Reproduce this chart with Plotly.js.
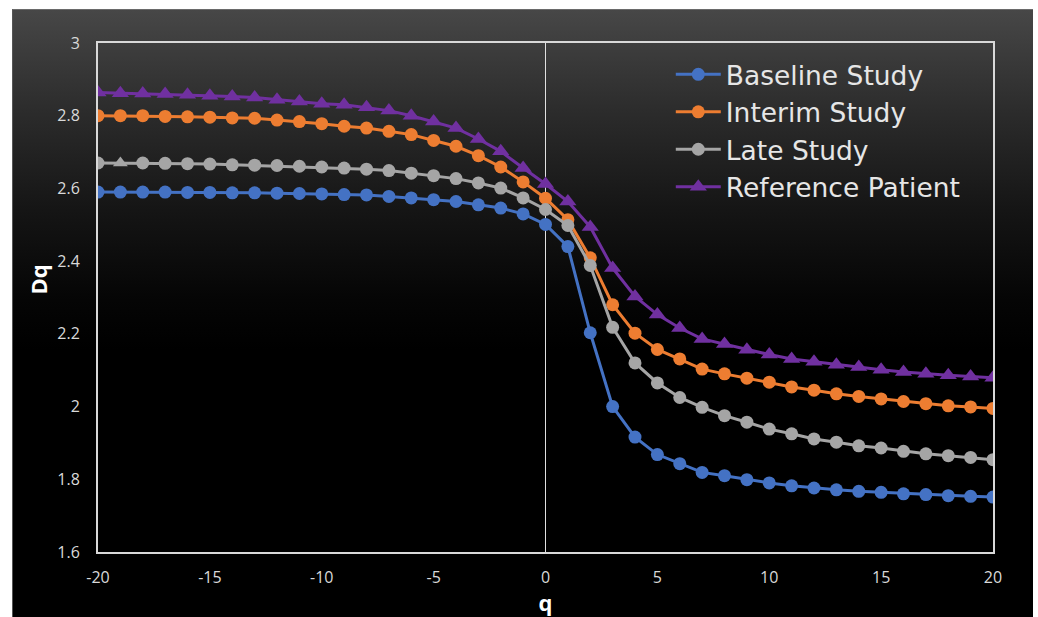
<!DOCTYPE html>
<html>
<head>
<meta charset="utf-8">
<script src="https://cdn.plot.ly/plotly-3.0.1.min.js"></script>
<style>
  html, body { margin: 0; padding: 0; background: #ffffff; width: 1038px; height: 617px; overflow: hidden; }
  #bg { position: absolute; left: 12px; top: 9px; width: 1020px; height: 608px;
        background: linear-gradient(to bottom, #474747 0px, #2c2c2c 100px, #151515 200px, #050505 290px, #000000 340px, #000000 100%);
        border-top: 1px solid #6a6a6a; border-left: 1px solid #555; }
  #chart { position: absolute; left: 0; top: 0; width: 1038px; height: 617px; }
</style>
</head>
<body>
<div id="bg"></div>
<div id="chart"></div>
<script>
const q = [-20,-19,-18,-17,-16,-15,-14,-13,-12,-11,-10,-9,-8,-7,-6,-5,-4,-3,-2,-1,0,1,2,3,4,5,6,7,8,9,10,11,12,13,14,15,16,17,18,19,20];

const baselineStudy = [2.590,2.590,2.590,2.590,2.589,2.589,2.588,2.588,2.587,2.586,2.585,
  2.583,2.582,2.578,2.574,2.569,2.564,2.555,2.546,2.530,2.501,
  2.440,2.203,2.000,1.916,1.868,1.843,1.819,1.810,1.799,1.790,1.782,1.776,1.771,1.767,1.764,1.760,1.758,1.755,1.753,1.751];

const interimStudy = [2.800,2.800,2.800,2.798,2.797,2.796,2.794,2.793,2.788,2.784,2.778,
  2.771,2.766,2.757,2.748,2.732,2.716,2.690,2.659,2.618,2.573,
  2.514,2.409,2.280,2.202,2.157,2.131,2.103,2.090,2.078,2.067,2.054,2.045,2.035,2.028,2.021,2.014,2.008,2.002,1.999,1.995];

const lateStudy = [2.670,2.670,2.670,2.669,2.668,2.667,2.665,2.664,2.663,2.661,2.659,
  2.656,2.653,2.649,2.642,2.635,2.627,2.615,2.601,2.574,2.542,
  2.498,2.388,2.218,2.120,2.065,2.025,1.998,1.975,1.957,1.938,1.925,1.911,1.902,1.892,1.886,1.877,1.870,1.865,1.860,1.854];

const referencePatient = [2.864,2.862,2.861,2.860,2.858,2.855,2.853,2.850,2.844,2.839,2.833,
  2.830,2.823,2.814,2.800,2.784,2.766,2.736,2.702,2.656,2.612,
  2.564,2.494,2.381,2.303,2.253,2.216,2.186,2.172,2.156,2.143,2.131,2.123,2.115,2.109,2.101,2.095,2.090,2.086,2.083,2.079];

const seriesNames = ['Baseline Study', 'Interim Study', 'Late Study', 'Reference Patient'];
const xTicks = [-20,-15,-10,-5,0,5,10,15,20];
const yTicks = [1.6,1.8,2,2.2,2.4,2.6,2.8,3];

const lateSymbols = q.map(v => v === -19 ? 'triangle-up' : 'circle');

function tr(name, y, color, symbol, size) {
  return {
    x: q, y: y, name: name, type: 'scatter', mode: 'lines+markers',
    line: {color: color, width: 3},
    marker: {color: color, symbol: symbol, size: size, line: {width: 0}}
  };
}

const data = [
  tr(seriesNames[0], baselineStudy, '#4472C4', 'circle', 13),
  tr(seriesNames[1], interimStudy, '#ED7D31', 'circle', 13),
  tr(seriesNames[2], lateStudy, '#A5A5A5', lateSymbols, 13),
  tr(seriesNames[3], referencePatient, '#7030A0', 'triangle-up', 15)
];

const tickFont = {family: 'Open Sans, sans-serif', size: 16, color: '#d9d9d9'};
const titleFont = {family: 'Open Sans, sans-serif', size: 22, color: '#ffffff', weight: 'bold'};

const layout = {
  width: 1038, height: 617,
  paper_bgcolor: 'rgba(0,0,0,0)',
  plot_bgcolor: 'rgba(0,0,0,0)',
  margin: {l: 98, r: 45, t: 43, b: 65},
  showlegend: true,
  legend: {
    x: 0.64, y: 0.985, xanchor: 'left', yanchor: 'top',
    bgcolor: 'rgba(0,0,0,0)',
    font: {family: 'DejaVu Sans, sans-serif', size: 26.5, color: '#e6e6e6'},
    itemwidth: 45, tracegroupgap: 0
  },
  xaxis: {
    range: [-20, 20], tickvals: xTicks, ticktext: xTicks.map(String),
    showgrid: false, zeroline: true, zerolinecolor: '#e0e0e0', zerolinewidth: 1.5,
    showline: true, mirror: true, linecolor: '#d9d9d9', linewidth: 2,
    ticks: '', tickfont: tickFont, ticklabelstandoff: 10,
    title: {text: 'q', font: titleFont, standoff: 1},
    automargin: false, fixedrange: true
  },
  yaxis: {
    range: [1.6, 3], tickvals: yTicks, ticktext: yTicks.map(String),
    showgrid: false, zeroline: false,
    showline: true, mirror: true, linecolor: '#d9d9d9', linewidth: 2,
    ticks: '', tickfont: tickFont, ticklabelstandoff: 13,
    automargin: false, fixedrange: true
  },
  annotations: [{
    text: '<b>Dq</b>', textangle: -90, showarrow: false,
    xref: 'paper', yref: 'paper', x: 0, y: 0.5, xanchor: 'center', yanchor: 'middle',
    xshift: -61, yshift: 18,
    font: titleFont
  }]
};

Plotly.newPlot('chart', data, layout, {displayModeBar: false, staticPlot: true});
</script>
</body>
</html>
